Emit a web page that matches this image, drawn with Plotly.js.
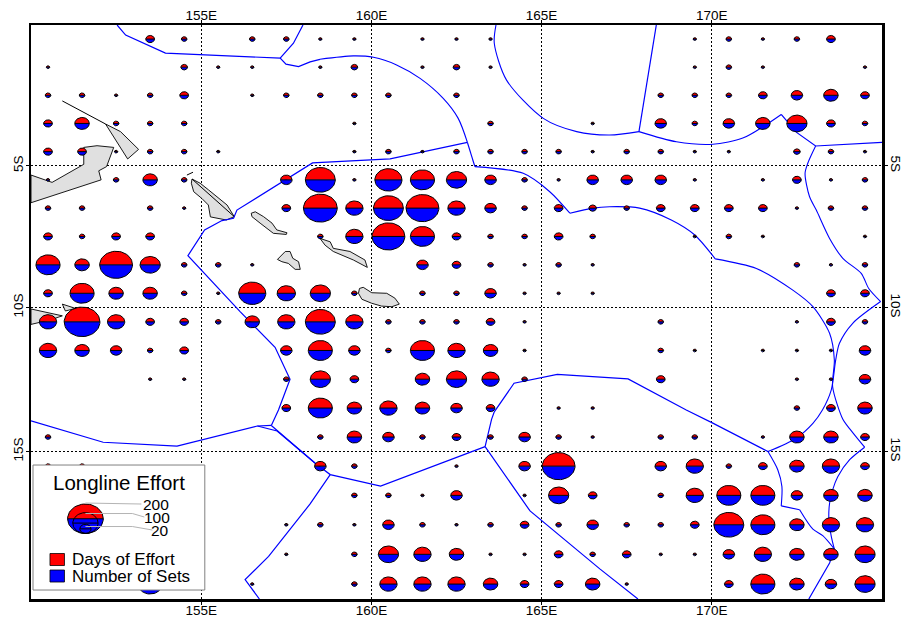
<!DOCTYPE html>
<html><head><meta charset="utf-8">
<script src="https://cdn.plot.ly/plotly-3.0.1.min.js"></script>
<style>html,body{margin:0;padding:0;background:#fff}#c{width:906px;height:622px}</style>
</head><body><div id="c"></div>
<script>
// ---------- data ----------
const lons = [150.5,151.5,152.5,153.5,154.5,155.5,156.5,157.5,158.5,159.5,160.5,161.5,162.5,163.5,164.5,165.5,166.5,167.5,168.5,169.5,170.5,171.5,172.5,173.5,174.5];
const lats = [0.5,1.5,2.5,3.5,4.5,5.5,6.5,7.5,8.5,9.5,10.5,11.5,12.5,13.5,14.5,15.5,16.5,17.5,18.5,19.5];
// effort value per 1-degree cell, one row per latitude, one column per longitude
const effort = [
 [0,0,0,12,5,0,5,5,1,1,0,1,1,1,0,0,0,0,0,1,5,1,5,12,0],
 [1,0,0,0,7,1,1,0,1,7,0,1,7,1,0,0,0,0,0,1,5,1,0,0,1],
 [5,5,1,5,12,0,1,5,5,5,5,0,5,0,0,0,0,0,5,5,5,12,21,33,12],
 [12,33,5,5,5,0,0,0,0,1,0,0,0,5,0,0,1,0,21,5,21,33,64,12,5],
 [12,12,1,5,5,1,0,0,0,1,5,1,5,5,5,5,1,5,5,1,1,0,7,5,1],
 [1,0,5,33,5,0,0,21,140,1,115,91,64,21,5,1,21,21,21,1,0,1,12,1,5],
 [5,5,0,5,1,0,0,12,179,47,140,169,47,21,5,12,9,5,12,12,12,12,1,5,5],
 [12,5,12,12,0,0,0,0,5,47,169,91,12,5,5,12,5,0,0,1,5,1,0,0,1],
 [91,33,169,64,5,5,1,0,0,0,0,21,12,5,1,5,1,0,0,0,0,0,5,1,5],
 [12,91,33,33,5,1,115,53,64,5,0,5,5,21,1,1,1,0,0,0,0,0,0,12,12],
 [47,200,47,12,12,5,33,47,140,47,5,5,5,12,1,0,0,0,5,0,0,0,1,12,5],
 [47,33,21,5,12,0,0,21,91,21,5,91,47,33,1,0,0,0,5,1,0,1,1,1,21],
 [0,0,0,1,1,0,0,5,64,12,0,33,64,47,5,0,0,0,12,0,0,0,1,1,21],
 [0,0,0,0,0,0,0,12,91,33,47,33,21,12,0,1,1,0,0,0,0,0,5,12,33],
 [5,0,0,0,0,0,0,0,5,33,21,5,12,5,21,5,1,0,5,5,0,1,33,33,12],
 [5,5,0,0,0,0,0,0,21,5,0,0,1,0,21,169,0,0,21,47,5,12,33,47,12],
 [0,0,0,0,0,0,0,0,0,5,5,1,21,0,1,64,12,0,5,47,91,91,21,33,33],
 [0,0,0,0,0,0,0,1,5,1,21,5,1,5,12,5,21,5,5,12,140,91,33,47,47],
 [0,0,0,0,0,0,0,1,0,5,64,47,33,1,1,12,5,12,1,1,21,47,33,33,64],
 [0,0,0,91,0,0,1,0,0,5,47,47,47,33,12,12,33,1,0,0,12,91,33,21,64]
];
const xTicks = [155,160,165,170];
const xTickText = ['155E','160E','165E','170E'];
const yTicks = [5,10,15];
const yTickText = ['5S','10S','15S'];
const legendValues = [200,100,20];
const legendSeries = ['Days of Effort','Number of Sets'];

// EEZ boundaries, straight runs: [lon, lat south] vertices
const eezStraight = [
 [[152.53,0],[152.78,.36],[153.95,1.0],[157.32,1.18],[157.49,1.39],[157.86,1.48],[158.2,1.31],[158.49,1.22]],
 [[157.32,1.18],[157.71,.65],[157.99,0]],
 [[162.82,4.17],[160.55,4.76],[158.27,4.90],[156.05,6.57],[155.95,6.86],[155.61,6.94],[155.10,7.27],[154.61,8.18],[156.15,10.15],[156.62,10.73],[157.17,11.39],[157.61,12.50],[157.27,13.57],[157.06,14.10]],
 [[157.06,14.10],[156.65,14.12],[154.29,14.81],[152.12,14.68],[150,13.94]],
 [[156.65,14.12],[157.23,14.29],[158.35,15.40]],
 [[157.06,14.10],[158.35,15.40],[158.79,15.79],[160.27,16.18],[163.34,14.83]],
 [[158.79,15.79],[158.40,16.48],[158.2,16.79],[156.98,18.57],[156.29,19.35],[156.71,20]],
 [[163.34,14.83],[163.53,13.89],[163.61,13.63],[164.19,12.64],[165.46,12.33],[167,12.45],[167.54,12.49],[169.25,13.57],[170.03,14.02],[171.65,15.0]],
 [[163.34,14.83],[164.66,17.03],[166.71,18.99],[167.83,20]],
 [[172.04,16.86],[172.58,16.99]],
 [[173.6,18.32],[173.46,18.79],[172.85,20]],
 [[162.82,4.17],[163.04,5.03]],
 [[167.86,3.79],[168.37,0]],
 [[172.04,3.18],[172.48,3.81],[173.05,4.3],[175,4.17]]
];
// EEZ boundaries, curved arcs
const eezArcs = [
 [[158.49,1.22],[159.47,1.10],[160.06,1.15],[160.74,1.42],[161.43,1.90],[162.11,2.61],[162.55,3.32],[162.82,4.17]],
 [[163.04,5.03],[164.46,5.27],[165.24,5.92],[165.83,6.68]],
 [[165.83,6.68],[166.5,6.5],[167,6.45],[167.88,6.5],[168.81,6.92],[169.5,7.45],[170.05,8.21],[170.1,8.29]],
 [[170.1,8.29],[171.31,8.63],[172.38,9.39],[172.97,9.97],[173.46,10.90],[173.6,11.83],[173.55,12.76],[173.85,13.89],[174.0,14.14],[174.49,14.85]],
 [[174.49,14.85],[174.05,15.28],[173.7,15.86],[173.55,16.31],[173.46,16.77],[173.44,17.33],[173.51,17.89],[173.6,18.32]],
 [[171.65,15.0],[172.48,14.54],[172.97,14.03],[173.25,13.57],[173.51,12.87],[173.64,11.83],[173.75,11.25],[174.14,10.55],[174.96,9.79]],
 [[171.65,15.0],[171.94,15.63],[172.06,16.2],[172.04,16.86]],
 [[172.58,16.99],[172.97,17.65],[173.26,17.87],[173.6,18.32]],
 [[163.66,0],[163.61,.65],[163.97,1.96],[165.05,3.32],[166.03,3.79],[167,3.91],[167.86,3.79]],
 [[167.86,3.79],[168.96,4.15],[170.03,4.24],[170.91,4.02],[171.5,3.62],[172.04,3.18]],
 [[173.05,4.3],[172.82,4.91],[172.74,5.27],[172.87,6.09],[173.07,6.57],[173.46,7.57],[173.85,8.27],[174.39,8.8],[174.61,9.33],[174.96,9.79]]
];
// Land outlines: [lon, lat south] vertices
const land = [
 [[152.19,3.52],[152.63,3.79],[153.16,4.42],[152.84,4.76]],
 [[150,5.33],[150.62,5.59],[151.55,4.95],[151.55,4.35],[151.94,4.29],[152.43,4.35],[152.22,5.03],[151.99,5.18],[152.06,5.5],[150,6.31]],
 [[154.73,5.47],[154.97,5.62],[155.22,5.86],[155.51,6.16],[155.76,6.39],[155.97,6.80],[155.74,6.92],[155.27,6.81],[155.21,6.39],[155.02,6.16],[154.78,5.92],[154.71,5.62]],
 [[156.47,6.68],[156.59,6.63],[156.83,6.80],[157.08,7.03],[157.22,7.27],[157.52,7.37],[157.50,7.43],[157.12,7.39],[156.73,7.03],[156.49,6.80]],
 [[157.24,8.31],[157.47,8.03],[157.61,8.03],[157.69,8.27],[157.86,8.39],[157.91,8.66],[157.76,8.66],[157.56,8.45],[157.37,8.39]],
 [[158.49,7.57],[158.79,7.69],[158.88,7.92],[159.37,8.03],[159.81,8.33],[159.88,8.59],[159.47,8.33],[158.88,8.03],[158.64,7.81]],
 [[159.65,9.33],[159.76,9.29],[160.01,9.48],[160.45,9.5],[160.69,9.67],[160.82,9.88],[160.6,9.97],[160.3,9.95],[160.01,9.85],[159.72,9.71],[159.62,9.5]],
 [[150,10.05],[150.92,10.29],[150.57,10.43],[150,10.59]],
 [[150.92,9.88],[151.31,10.03],[151.01,10.12]]
];
const coastLines = [
 [[150.92,2.7],[152.19,3.52]],
 [[154.58,5.33],[154.76,5.23]],
 [[154.73,5.47],[155.97,6.80]]
];

// ---------- scales ----------
const RAD = Math.PI/180;
const merc = lat => -Math.asinh(Math.tan(lat*RAD))/RAD;   // south-positive latitude to Mercator plot value
const R200 = 0.525;                                       // radius in degrees of a value of 200
const radius = v => Math.max(0.05, R200*Math.sqrt(v/200));
const N = 28;

function pushHalf(xs,ys,cx,cy,r,upper){
  for(let i=0;i<=N;i++){
    const a = Math.PI*i/N;
    xs.push(cx+r*Math.cos(a));
    ys.push(cy+(upper?1:-1)*r*Math.sin(a));
  }
  xs.push(null); ys.push(null);
}
function glyphs(items,xa,ya){
  const rx=[],ry=[],bx=[],by=[],ox=[],oy=[];
  items.forEach(([cx,cy,r])=>{
    pushHalf(rx,ry,cx,cy,r,true);
    pushHalf(bx,by,cx,cy,r,false);
    for(let i=0;i<=2*N;i++){const a=Math.PI*i/N; ox.push(cx+r*Math.cos(a)); oy.push(cy+r*Math.sin(a));}
    ox.push(null);oy.push(null);
    ox.push(cx-r,cx+r,null); oy.push(cy,cy,null);
  });
  const base={type:'scatter',mode:'lines',hoverinfo:'skip',showlegend:false,xaxis:xa,yaxis:ya};
  return [
    {...base,x:rx,y:ry,fill:'toself',fillcolor:'#ff0000',line:{width:0,color:'#ff0000'}},
    {...base,x:bx,y:by,fill:'toself',fillcolor:'#0000ff',line:{width:0,color:'#0000ff'}},
    {...base,x:ox,y:oy,line:{width:1,color:'#000000'}}
  ];
}
function lineXY(list,close){
  const xs=[],ys=[];
  list.forEach(p=>{
    const q=close?p.concat([p[0]]):p;
    q.forEach(([lo,la])=>{xs.push(lo);ys.push(merc(la));});
    xs.push(null);ys.push(null);
  });
  return {x:xs,y:ys};
}

// ---------- traces ----------
const base={type:'scatter',mode:'lines',hoverinfo:'skip',showlegend:false};
const traces=[];
traces.push({...base,...lineXY(land,true),fill:'toself',fillcolor:'#e0e0e0',line:{color:'#000',width:0.9}});
traces.push({...base,...lineXY(coastLines,false),line:{color:'#000',width:1}});
traces.push({...base,...lineXY(eezStraight,false),line:{color:'#0000ff',width:1.2}});
traces.push({...base,...lineXY(eezArcs,false),line:{color:'#0000ff',width:1.1,shape:'spline',smoothing:0.8}});

const cells=[];
lats.forEach((la,i)=>lons.forEach((lo,j)=>{
  const v=effort[i][j];
  if(v>0) cells.push([lo,merc(la),radius(v)]);
}));
traces.push(...glyphs(cells,'x','y'));

// legend panel, placed with page-pixel helpers and drawn on the overlay axes
const PX=p=>150+(p-30.5)/34.08, PY=p=>-(p-25)/28.11;
const rect=(a,b,c,d)=>({x:[PX(a),PX(c),PX(c),PX(a),PX(a)],y:[PY(b),PY(b),PY(d),PY(d),PY(b)]});
const b2={...base,xaxis:'x2',yaxis:'y2'};
traces.push({...b2,...rect(32.5,465,204.5,590),fill:'toself',fillcolor:'#ffffff',line:{color:'#808080',width:1}});
const legendBottom=PY(533.5), gCx=PX(85);
traces.push(...glyphs(legendValues.map(v=>[gCx,legendBottom+radius(v),radius(v)]),'x2','y2'));
const lead=[[[85,503],[141,504]],[[85,513.5],[132,513.5],[144,517]],[[85,526.5],[132,526.5],[152,530]]];
traces.push({...b2,x:lead.flatMap(l=>l.map(p=>PX(p[0])).concat([null])),y:lead.flatMap(l=>l.map(p=>PY(p[1])).concat([null])),line:{color:'#b4b4b4',width:1}});
traces.push({...b2,...rect(49.5,553.5,64,565.5),fill:'toself',fillcolor:'#ff0000',line:{color:'#000',width:0.8}});
traces.push({...b2,...rect(49.5,570,64,582),fill:'toself',fillcolor:'#0000ff',line:{color:'#000',width:0.8}});

const FONT='"Liberation Sans", Arial, sans-serif';
const note=(text,px,py,size,anchor)=>({text,x:PX(px),y:PY(py),xref:'x2',yref:'y2',showarrow:false,xanchor:anchor,yanchor:'middle',font:{family:FONT,size,color:'#000'}});
const annotations=[
  note('Longline Effort',119,482,20.5,'center'),
  note(String(legendValues[0]),171,504,15.5,'right'),
  note(String(legendValues[1]),171.5,517,15.5,'right'),
  note(String(legendValues[2]),171,530,15.5,'right'),
  note(legendSeries[0],69.5,559,17,'left'),
  note(legendSeries[1],69.5,576,17,'left')
];

const common={tickmode:'array',ticks:'outside',ticklen:3,tickwidth:1,tickcolor:'#000',
  showgrid:true,gridcolor:'#000',gridwidth:1,griddash:'2px,2px',showline:true,linecolor:'#000',linewidth:2.5,zeroline:false,
  tickfont:{family:FONT,size:13.5,color:'#000'},fixedrange:true};
const xCommon={...common,range:[150,175],tickvals:xTicks,ticktext:xTickText};
const yCommon={...common,range:[merc(20),0],tickvals:yTicks.map(merc),ticktext:yTickText};

const layout={
  width:906,height:622,paper_bgcolor:'#fff',plot_bgcolor:'#fff',showlegend:false,
  margin:{l:30.5,r:23.5,t:25,b:23,pad:0},
  font:{family:FONT,color:'#000'},
  xaxis:{...xCommon,side:'bottom',anchor:'y',ticklabelstandoff:-6},
  yaxis:{...yCommon,side:'left',anchor:'x',tickangle:-90,ticklabelstandoff:-3},
  xaxis2:{...xCommon,side:'top',anchor:'y2',overlaying:'x',showgrid:false,ticklabelstandoff:-6},
  yaxis2:{...yCommon,side:'right',anchor:'x2',overlaying:'y',tickangle:90,showgrid:false,ticklabelstandoff:-2},
  annotations
};
Plotly.newPlot('c',traces,layout,{displayModeBar:false,staticPlot:true});
</script></body></html>
